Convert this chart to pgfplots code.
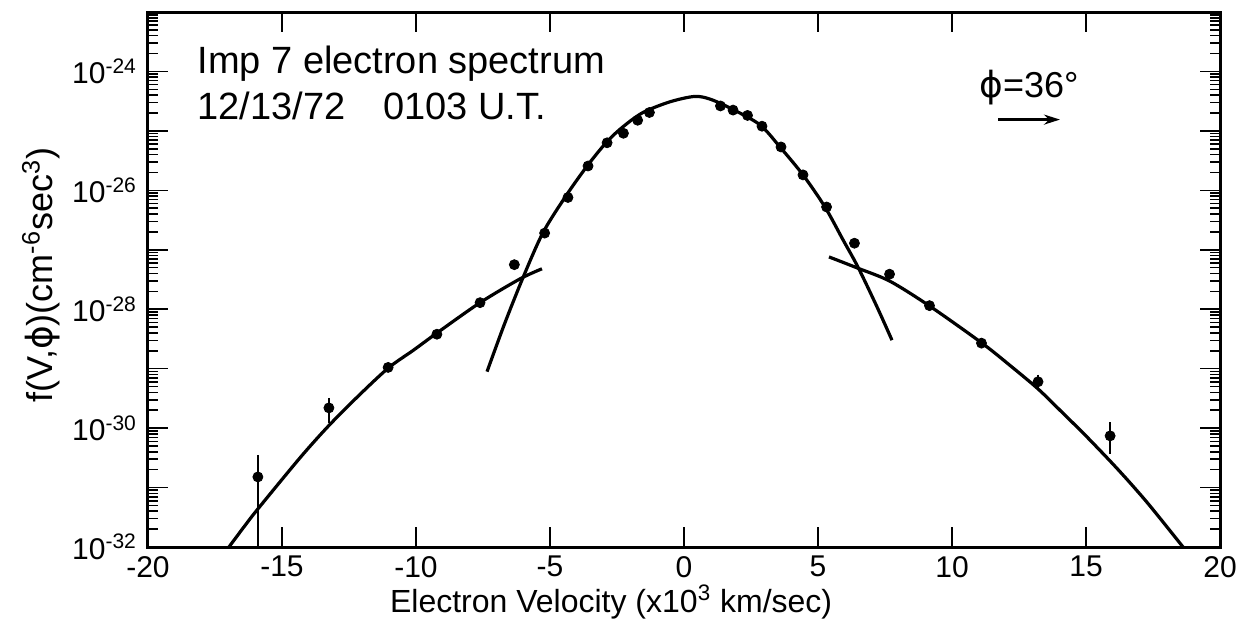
\documentclass[border=0pt]{standalone}
\usepackage{pgfplots}
\pgfplotsset{compat=1.18}
\usepackage{fontspec}
\setmainfont{Liberation Sans}
\newfontfamily\dejavu{DejaVu Sans}
\usetikzlibrary{arrows.meta}
\begin{document}
\begin{tikzpicture}
\useasboundingbox (-74pt,-41.5pt) rectangle (546.5pt,273.5pt);
\begin{axis}[
  at={(0,0)}, anchor=south west,
  scale only axis, width=536pt, height=267.5pt,
  xmin=-20, xmax=20, ymode=log, ymin=1e-32, ymax=1e-23,
  axis line style={line width=1.5pt},
  xtick={-20,-15,-10,-5,0,5,10,15,20},
  xticklabels={-20,-15,-10,-5,0,5,10,15,20},
  ytick={1e-32,1e-31,1e-30,1e-29,1e-28,1e-27,1e-26,1e-25,1e-24,1e-23},
  yticklabels={10\textsuperscript{-32},,10\textsuperscript{-30},,10\textsuperscript{-28},,10\textsuperscript{-26},,10\textsuperscript{-24},},
  minor ytick={2e-32,3e-32,4e-32,5e-32,6e-32,7e-32,8e-32,9e-32,
               2e-31,3e-31,4e-31,5e-31,6e-31,7e-31,8e-31,9e-31,
               2e-30,3e-30,4e-30,5e-30,6e-30,7e-30,8e-30,9e-30,
               2e-29,3e-29,4e-29,5e-29,6e-29,7e-29,8e-29,9e-29,
               2e-28,3e-28,4e-28,5e-28,6e-28,7e-28,8e-28,9e-28,
               2e-27,3e-27,4e-27,5e-27,6e-27,7e-27,8e-27,9e-27,
               2e-26,3e-26,4e-26,5e-26,6e-26,7e-26,8e-26,9e-26,
               2e-25,3e-25,4e-25,5e-25,6e-25,7e-25,8e-25,9e-25,
               2e-24,3e-24,4e-24,5e-24,6e-24,7e-24,8e-24,9e-24},
  tick align=inside, major tick length=10pt, minor tick length=5pt,
  every tick/.style={black, line width=0.8pt},
  tick label style={font=\fontsize{15}{15}\selectfont},
  x tick label style={yshift=-1pt},
  y tick label style={xshift=-2pt},
  xlabel={Electron Velocity (x10\textsuperscript{3} km/sec)},
  xlabel style={at={(axis description cs:0.432,-0.103)}, anchor=center, font=\fontsize{16}{16}\selectfont},
  ylabel={f(V,{\dejavu ϕ})(cm\textsuperscript{-6}sec\textsuperscript{3})},
  ylabel style={at={(axis description cs:-0.10,0.508)}, anchor=center, font=\fontsize{18}{18}\selectfont},
  clip=true,
]
% central fit curve
\addplot[black, line width=1.6pt, smooth] coordinates {
(-7.35,8.91e-30) (-6.7,5.62e-29) (-6.0,3.47e-28) (-5.26,1.95e-27) (-4.37,8.51e-27)
(-3.58,2.69e-26) (-2.87,6.61e-26) (-2.28,1.17e-25) (-1.53,2.04e-25) (-0.52,3.09e-25)
(0.4,3.80e-25) (1.0,3.39e-25) (1.83,2.29e-25) (2.84,1.26e-25) (3.58,5.37e-26)
(4.44,1.82e-26) (5.26,5.25e-27) (5.93,1.48e-27) (6.49,5.13e-28) (7.2,1.10e-28) (7.76,3.02e-29)};
% left halo curve
\addplot[black, line width=1.6pt, smooth] coordinates {
(-16.98,1e-32) (-16.4,2.24e-32) (-15.9,4.37e-32) (-14.33,3.16e-31) (-13.28,1.07e-30)
(-12.2,3.31e-30) (-11.04,1.02e-29) (-10.1,2.04e-29) (-9.22,3.98e-29) (-7.61,1.29e-28)
(-6.12,3.24e-28) (-5.30,4.79e-28)};
% right halo curve
\addplot[black, line width=1.6pt, smooth] coordinates {
(5.41,7.59e-28) (6.49,4.90e-28) (7.69,2.95e-28) (9.18,1.12e-28) (11.12,2.69e-29)
(12.2,1.10e-29) (13.21,4.57e-30) (14.1,1.86e-30) (15.04,7.08e-31) (16.2,2.0e-31)
(17.28,5.62e-32) (18.62,1e-32)};
% error bars
\addplot[black, line width=1pt] coordinates {(-15.9,3.55e-31) (-15.9,1e-32)};
\addplot[black, line width=1pt] coordinates {(-13.25,3.24e-30) (-13.25,1.23e-30)};
\addplot[black, line width=1pt] coordinates {(13.21,7.94e-30) (13.21,4.47e-30)};
\addplot[black, line width=1pt] coordinates {(15.9,1.26e-30) (15.9,3.72e-31)};
% measured points
\addplot[only marks, mark=*, mark size=2.5pt, black] coordinates {
(-15.9,1.51e-31) (-13.25,2.19e-30) (-11.04,1.05e-29) (-9.22,3.80e-29) (-7.61,1.29e-28)
(-6.33,5.62e-28) (-5.2,1.91e-27) (-4.33,7.59e-27) (-3.58,2.57e-26) (-2.87,6.31e-26)
(-2.26,9.12e-26) (-1.73,1.51e-25) (-1.29,2.04e-25) (1.36,2.63e-25) (1.83,2.24e-25)
(2.37,1.82e-25) (2.91,1.20e-25) (3.62,5.37e-26) (4.44,1.82e-26) (5.32,5.25e-27)
(6.36,1.29e-27) (7.67,3.89e-28) (9.16,1.15e-28) (11.1,2.69e-29) (13.21,6.03e-30)
(15.9,7.41e-31)};
% annotations
\node[anchor=base west, inner sep=0pt, font=\fontsize{19}{19}\selectfont] at (axis cs:-18.17,9.1e-25) {Imp 7 electron spectrum};
\node[anchor=base west, inner sep=0pt, font=\fontsize{19}{19}\selectfont] at (axis cs:-18.17,1.55e-25) {12/13/72\hspace{1em}0103 U.T.};
\node[anchor=center, font=\fontsize{18}{18}\selectfont] at (axis cs:12.87,5.37e-25) {{\dejavu ϕ}=36°};
\draw[line width=1.3pt, -{Stealth[length=8pt,width=5pt]}] (axis cs:11.72,1.55e-25) -- (axis cs:14.03,1.55e-25);
\end{axis}
\end{tikzpicture}
\end{document}
